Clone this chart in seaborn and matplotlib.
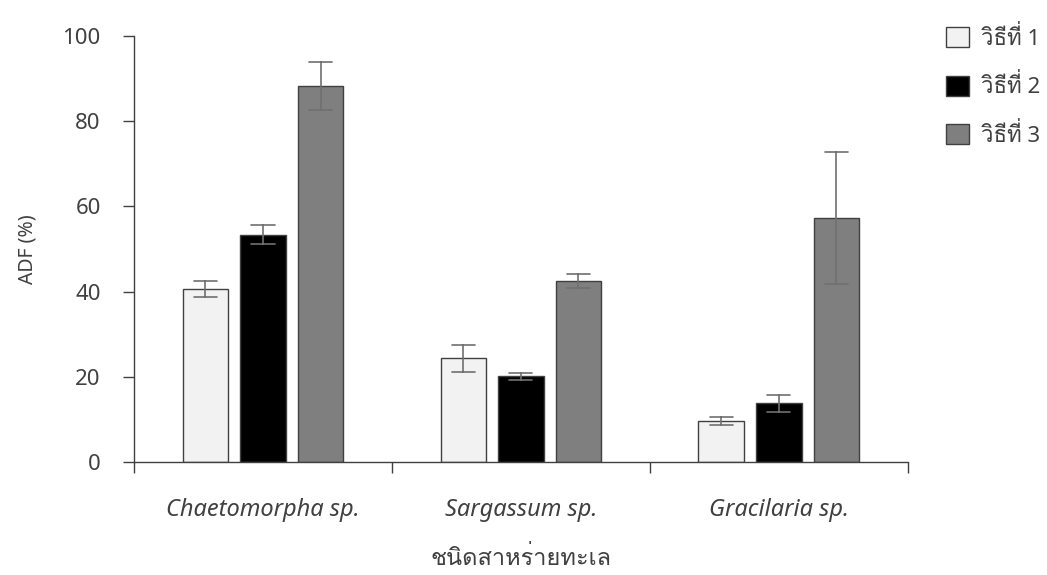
import warnings

warnings.filterwarnings("ignore")

import numpy as np
import pandas as pd
import seaborn as sns
import matplotlib
from matplotlib import pyplot as plt
from matplotlib import font_manager as fm
from matplotlib.ft2font import FT2Font

# values (ADF %, mean and error half-width)
species = ["Chaetomorpha sp.", "Sargassum sp.", "Gracilaria sp."]
methods = ["วิธีที่ 1", "วิธีที่ 2", "วิธีที่ 3"]
adf_m1 = [40.6, 24.3, 9.6]
adf_m2 = [53.4, 20.1, 13.8]
adf_m3 = [88.3, 42.5, 57.3]
err_m1 = [1.9, 3.2, 0.9]
err_m2 = [2.3, 0.8, 2.0]
err_m3 = [5.7, 1.6, 15.5]
bar_colors = ["#f2f2f2", "#000000", "#7f7f7f"]


def find_thai_font():
    for f in fm.fontManager.ttflist:
        try:
            if 0x0E27 in FT2Font(f.fname).get_charmap():
                return f.name
        except Exception:
            pass
    return None


sns.set_style("white")
thai = find_thai_font()
families = ["Noto Sans"] + ([thai] if thai else []) + ["DejaVu Sans"]
plt.rcParams["font.family"] = families

text_col = "#404040"

# long table: each bar gets a low and high row, so mean = value and min/max = error range
rows = []
for method, vals, errs in zip(methods, [adf_m1, adf_m2, adf_m3], [err_m1, err_m2, err_m3]):
    for sp, v, e in zip(species, vals, errs):
        rows.append({"species": sp, "method": method, "adf": v - e})
        rows.append({"species": sp, "method": method, "adf": v + e})
data = pd.DataFrame(rows)

fig = plt.figure(figsize=(10.47, 5.75), dpi=100)
ax = fig.add_axes([0.128, 0.1965, 0.739, 0.7409])

sns.barplot(
    data=data,
    x="species",
    y="adf",
    hue="method",
    order=species,
    hue_order=methods,
    palette=bar_colors,
    estimator="mean",
    errorbar=lambda v: (v.min(), v.max()),
    err_kws={"color": "#707070", "linewidth": 1.2},
    capsize=0.27,
    width=0.67,
    gap=0.21,
    edgecolor="#404040",
    linewidth=1.0,
    saturation=1,
    ax=ax,
)

ax.set_ylim(0, 100)
ax.set_xlim(-0.5, 2.5)
ax.set_yticks(np.arange(0, 101, 20))
ax.tick_params(axis="y", length=8, width=1, color=text_col, labelsize=16,
               labelcolor=text_col, pad=16, left=True)

# boundary ticks (major, no labels) and centred category labels (minor)
ax.set_xticks([-0.5, 0.5, 1.5, 2.5])
ax.set_xticklabels([])
ax.set_xticks([0, 1, 2], minor=True)
ax.set_xticklabels(species, minor=True, fontstyle="italic")
ax.tick_params(axis="x", which="major", length=8, width=1, color=text_col,
               direction="out", bottom=True)
ax.tick_params(axis="x", which="minor", length=0, labelsize=17,
               labelcolor=text_col, pad=26)

for side in ["top", "right"]:
    ax.spines[side].set_visible(False)
for side in ["left", "bottom"]:
    ax.spines[side].set_color(text_col)
    ax.spines[side].set_linewidth(1)

ax.set_ylabel("ADF (%)", fontsize=14, color=text_col)
ax.yaxis.set_label_coords(-0.125, 0.5)
ax.set_xlabel("ชนิดสาหร่ายทะเล", fontsize=17, color=text_col)
ax.xaxis.set_label_coords(0.5, -0.2)

handles, labels = ax.get_legend_handles_labels()
ax.legend_.remove() if ax.legend_ else None
fig.legend(
    handles,
    labels,
    loc="upper left",
    bbox_to_anchor=(0.904, 0.955),
    frameon=False,
    fontsize=16,
    labelcolor=text_col,
    handlelength=1.0,
    handleheight=1.0,
    handletextpad=0.55,
    labelspacing=1.1,
    borderpad=0,
    borderaxespad=0,
)

fig.savefig("out.png", dpi=100)
